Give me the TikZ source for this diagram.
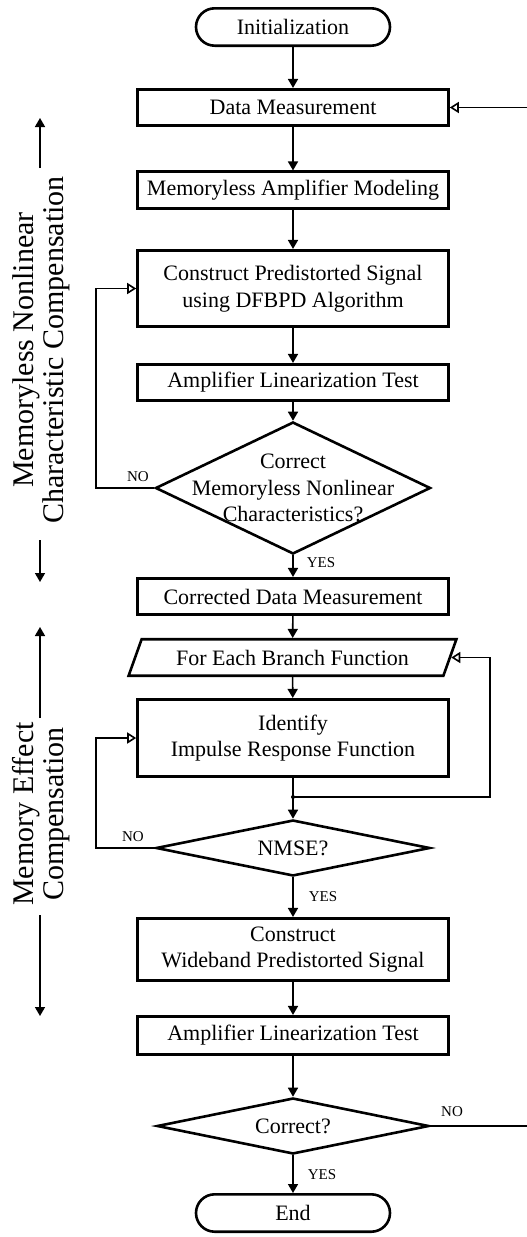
\documentclass[tikz,border=0pt]{standalone}
\usepackage{fontspec}
\setmainfont{Liberation Serif}
\usetikzlibrary{shapes.geometric,arrows.meta}
\begin{document}
\begin{tikzpicture}[x=1pt,y=1pt,
  proc/.style={draw, line width=2.6pt, minimum width=311pt, minimum height=36.5pt,
    font=\fontsize{22}{26.5}\selectfont, align=center, inner sep=0pt},
  term/.style={proc, rounded corners=18.7pt, minimum width=194pt, minimum height=37.4pt},
  dec/.style={draw, diamond, line width=2.6pt, inner sep=0pt},
  dectext/.style={font=\fontsize{22}{26.5}\selectfont, align=center},
  flow/.style={line width=1.6pt, -{Triangle[width=10pt,length=9pt]}},
  back/.style={line width=1.6pt, -{Triangle[open,width=11pt,length=9pt,line width=1.6pt]}},
  wire/.style={line width=1.6pt},
  tag/.style={font=\fontsize{15}{15}\selectfont, inner sep=0pt},
  side/.style={font=\fontsize{30}{30}\selectfont, align=center, rotate=90, inner sep=0pt},
]
\useasboundingbox (0,0) rectangle (527,-1237);

% main column
\node[term] (init) at (293,-27) {Initialization};
\node[proc] (dm)   at (293,-107.5) {Data Measurement};
\node[proc] (mam)  at (293,-190) {Memoryless Amplifier Modeling};
\node[proc, minimum height=76.5pt] (cps) at (293,-288.5) {Construct Predistorted Signal\\using DFBPD Algorithm};
\node[proc] (alt1) at (293,-382.5) {Amplifier Linearization Test};
\node[dec, minimum width=275pt, minimum height=132pt,
  label={[dectext]center:{Correct\\Memoryless Nonlinear\\Characteristics?}}] (d1) at (293,-488) {};
\node[proc] (cdm)  at (293,-596.5) {Corrected Data Measurement};
\node[draw, trapezium, trapezium left angle=57, trapezium right angle=123,
  trapezium stretches=true, minimum width=328pt, minimum height=36.5pt,
  line width=2.6pt, inner sep=0pt, font=\fontsize{22}{26.5}\selectfont] (fe) at (292.5,-657.5) {For Each Branch Function};
\node[proc, minimum height=77.5pt] (idf) at (293,-738) {Identify\\Impulse Response Function};
\node[dec, minimum width=274pt, minimum height=56pt,
  label={[dectext]center:NMSE?}] (d2) at (293,-848) {};
\node[proc, minimum height=62.5pt] (cw) at (293,-949.5) {Construct\\Wideband Predistorted Signal};
\node[proc, minimum height=38.5pt] (alt2) at (293,-1035.5) {Amplifier Linearization Test};
\node[dec, minimum width=272pt, minimum height=56pt,
  label={[dectext]center:Correct?}] (d3) at (293,-1126) {};
\node[term] (end) at (293,-1213) {End};

% forward flow
\draw[flow] (init) -- (dm);
\draw[flow] (dm) -- (mam);
\draw[flow] (mam) -- (cps);
\draw[flow] (cps) -- (alt1);
\draw[flow] (alt1) -- (d1);
\draw[flow] (d1) -- (cdm);
\draw[flow] (cdm) -- (fe);
\draw[flow] (fe) -- (idf);
\draw[flow] (idf) -- (d2);
\draw[flow] (d2) -- (cw);
\draw[flow] (cw) -- (alt2);
\draw[flow] (alt2) -- (d3);
\draw[flow] (d3) -- (end);

% feedback loops
\coordinate (j) at (293,-797);
\fill (j) circle (2pt);
\draw[back] (j) -- (490,-797) |- (fe.east);
\draw[back] (d1.west) -- (96,-488) |- (cps.west);
\draw[back] (d2.west) -- (96,-848) |- (idf.west);
\coordinate (r1) at (528,-107.5);
\coordinate (r2) at (528,-1126);
\draw[back] (r1) -- (dm.east);
\draw[wire] (d3.east) -- (r2);

% branch tags
\node[tag] (no1)  at (138,-477) {NO};
\node[tag] (no2)  at (133,-837) {NO};
\node[tag] (no3)  at (452,-1112) {NO};
\node[tag] (yes1) at (321,-563) {YES};
\node[tag] (yes2) at (323,-897) {YES};
\node[tag] (yes3) at (322,-1175) {YES};

% stage annotations
\node[side] (s1) at (41,-350) {Memoryless Nonlinear\\Characteristic Compensation};
\node[side] (s2) at (41,-814) {Memory Effect\\Compensation};
\coordinate (s1a) at (40,-168); \coordinate (s1b) at (40,-118);
\coordinate (s1c) at (40,-540); \coordinate (s1d) at (40,-582);
\coordinate (s2a) at (40,-718); \coordinate (s2b) at (40,-627);
\coordinate (s2c) at (40,-915); \coordinate (s2d) at (40,-1016);
\draw[flow] (s1a) -- (s1b);
\draw[flow] (s1c) -- (s1d);
\draw[flow] (s2a) -- (s2b);
\draw[flow] (s2c) -- (s2d);
\end{tikzpicture}
\end{document}
